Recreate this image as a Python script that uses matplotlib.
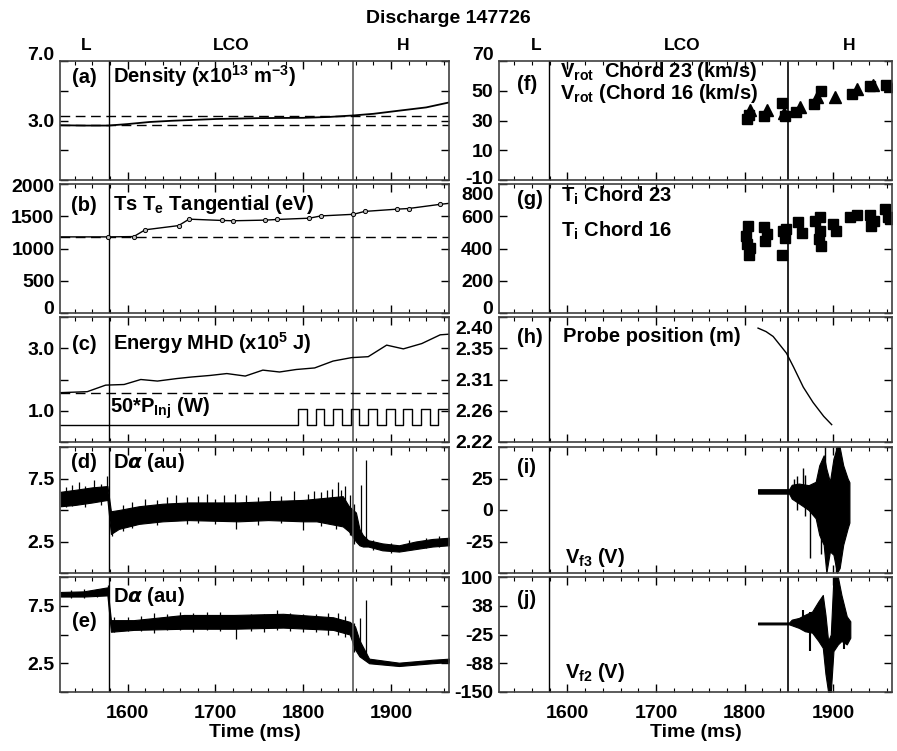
import numpy as np
import matplotlib
matplotlib.use('Agg')
import matplotlib.pyplot as plt
from matplotlib.ticker import MultipleLocator
from matplotlib.transforms import ScaledTranslation

plt.rcParams['font.family'] = ['Liberation Sans', 'DejaVu Sans']
plt.rcParams['font.weight'] = 'bold'
plt.rcParams['mathtext.fontset'] = 'custom'
plt.rcParams['mathtext.rm'] = 'Liberation Sans:bold'
plt.rcParams['mathtext.bf'] = 'Liberation Sans:bold'
plt.rcParams['mathtext.it'] = 'DejaVu Sans:italic'
plt.rcParams['mathtext.default'] = 'rm'

# ---- data ----
# (a) density
dens_t = [1524, 1550, 1578, 1600, 1625, 1650, 1700, 1750, 1800, 1830, 1857, 1880, 1909, 1940, 1965]
dens_v = [2.68, 2.66, 2.66, 2.76, 2.90, 2.98, 3.10, 3.16, 3.18, 3.24, 3.34, 3.45, 3.66, 3.88, 4.20]
dens_ref = [3.27, 2.68]

# (b) Thomson Te
te_t = [1524, 1578, 1607, 1620, 1658, 1670, 1707, 1720, 1757, 1770, 1807, 1820, 1857, 1870, 1907, 1920, 1956, 1966]
te_v = [1180, 1180, 1185, 1290, 1355, 1455, 1435, 1430, 1440, 1450, 1470, 1505, 1530, 1575, 1610, 1620, 1685, 1700]
te_ref = 1180

# (c) stored energy and beam power
wmhd_t = [1524, 1554, 1575, 1596, 1615, 1634, 1656, 1673, 1694, 1713, 1734, 1754, 1773, 1792,
          1813, 1834, 1855, 1874, 1895, 1914, 1935, 1956, 1966]
wmhd_v = [1.58, 1.61, 1.82, 1.84, 2.00, 1.95, 2.03, 2.08, 2.13, 2.19, 2.11, 2.30, 2.24, 2.32,
          2.37, 2.59, 2.70, 2.73, 3.10, 2.98, 3.15, 3.43, 3.45]
wmhd_ref = 1.58
pinj_on = [1794, 1814, 1834, 1854, 1874, 1894, 1914, 1934, 1954]
pinj_off = [1804, 1824, 1844, 1864, 1884, 1904, 1924, 1944, 1970]
pinj_lo, pinj_hi = 0.53, 1.07

# (d) D-alpha, band envelope + spikes
da1_t = [1524, 1540, 1560, 1577, 1581, 1590, 1613, 1640, 1669, 1726, 1760, 1800, 1815, 1845,
         1852, 1860, 1864, 1868, 1874, 1890, 1909, 1928, 1947, 1966]
da1_hi = [6.45, 6.60, 6.80, 6.90, 4.90, 5.00, 5.30, 5.50, 5.60, 5.60, 5.70, 5.80, 5.90, 6.10,
          5.30, 4.80, 3.50, 3.00, 2.60, 2.35, 2.20, 2.50, 2.70, 2.80]
da1_lo = [5.30, 5.40, 5.60, 5.80, 3.10, 3.50, 3.90, 4.10, 4.20, 4.10, 4.20, 4.10, 4.10, 3.70,
          3.30, 2.50, 2.20, 2.10, 2.10, 1.80, 1.70, 1.90, 2.10, 2.20]
da1_spk_t = [1530, 1537, 1545, 1552, 1562, 1570, 1577,
             1582, 1595, 1605, 1620, 1633, 1645, 1655, 1668, 1680, 1690, 1700, 1710, 1722,
             1724, 1735, 1748, 1762, 1775, 1790, 1800, 1805, 1812, 1820, 1827, 1833, 1837,
             1840, 1843, 1848, 1853, 1858, 1866, 1871,
             1880, 1900, 1920, 1940, 1955]
da1_spk_lo = [5.2, 5.3, 6.0, 5.2, 6.0, 5.4, 6.5,
              2.9, 3.3, 3.6, 4.5, 3.8, 4.5, 5.0, 3.9, 4.0, 5.0, 3.9, 5.0, 5.0,
              3.5, 5.0, 3.8, 5.0, 4.0, 5.0, 3.4, 5.0, 5.0, 3.7, 5.0, 5.0, 3.5,
              5.0, 5.0, 5.0, 3.0, 2.3, 2.3, 2.2,
              1.8, 1.6, 1.8, 2.0, 2.1]
da1_spk_hi = [6.8, 7.0, 7.2, 6.9, 7.4, 7.1, 7.7,
              4.5, 5.4, 5.6, 5.9, 5.8, 6.0, 6.2, 6.0, 6.1, 6.3, 5.9, 6.2, 6.3,
              5.0, 6.2, 6.0, 6.5, 6.1, 6.5, 5.0, 6.3, 6.5, 6.4, 6.6, 6.7, 6.0,
              7.2, 6.6, 6.9, 6.2, 5.5, 7.0, 8.97,
              2.6, 2.4, 2.6, 2.8, 2.9]

# (e) D-alpha, second chord
da2_t = [1524, 1550, 1577, 1581, 1607, 1664, 1721, 1777, 1834, 1853, 1859, 1864,
         1875, 1909, 1947, 1966]
da2_hi = [8.70, 8.75, 9.10, 6.25, 6.25, 6.70, 6.70, 6.80, 6.50, 6.10, 5.70, 4.50,
          2.90, 2.55, 2.80, 2.90]
da2_lo = [8.30, 8.30, 8.40, 5.24, 5.40, 5.50, 5.50, 5.60, 5.40, 5.00, 3.70, 3.10,
          2.50, 2.26, 2.50, 2.60]
da2_spk_t = [1535, 1550, 1565, 1578,
             1585, 1600, 1615, 1630, 1645, 1660, 1675, 1690, 1705, 1724, 1740, 1755,
             1770, 1785, 1800, 1815, 1828, 1840, 1848, 1858, 1865, 1872]
da2_spk_lo = [8.2, 8.2, 8.3, 8.4,
              5.2, 5.3, 5.3, 5.1, 5.4, 5.4, 5.2, 5.4, 5.3, 4.6, 5.3, 5.2,
              5.4, 5.3, 5.2, 5.2, 5.0, 5.0, 4.8, 3.5, 3.1, 2.9]
da2_spk_hi = [8.9, 9.0, 9.0, 9.3,
              6.5, 6.5, 6.6, 6.9, 6.8, 7.0, 6.9, 7.0, 7.0, 6.0, 6.8, 6.8,
              7.1, 6.9, 6.8, 6.8, 6.9, 6.9, 6.6, 6.0, 6.4, 8.0]

# (f) toroidal rotation
vrot23_t = [1802, 1805, 1822, 1842, 1845, 1858, 1878, 1886, 1921, 1941, 1959]
vrot23_v = [31, 34, 33, 42, 33, 36, 41, 50, 48, 53, 54]
vrot16_t = [1806, 1825, 1844, 1862, 1882, 1902, 1926, 1945, 1964]
vrot16_v = [37, 37, 35, 39, 46, 46, 51, 54, 53]

# (g) ion temperature
ti23_t = [1804, 1803, 1805, 1822, 1823, 1843, 1842, 1860, 1879, 1884, 1900, 1919, 1941, 1958, 1964]
ti23_v = [542, 425, 362, 531, 446, 510, 362, 563, 573, 457, 552, 595, 605, 648, 585]
ti16_t = [1801, 1806, 1825, 1845, 1847, 1864, 1885, 1886, 1885, 1903, 1926, 1942, 1946, 1961]
ti16_v = [478, 404, 489, 468, 521, 499, 595, 415, 510, 510, 605, 542, 573, 595]

# (h) probe position
probe_t = [1815, 1824, 1832, 1847, 1855, 1866, 1877, 1889, 1898]
probe_v = [2.384, 2.379, 2.372, 2.348, 2.328, 2.299, 2.277, 2.257, 2.245]

# (i) floating potential Vf3, envelope + spikes
vf3_t = [1815, 1850, 1853, 1861, 1872, 1880, 1884, 1889, 1892, 1896, 1900, 1904, 1907, 1911, 1916, 1918]
vf3_hi = [16.5, 16.5, 20, 21, 19.7, 22.4, 35.5, 43.4, 32.9, 22.4, 40.8, 50, 50, 35.5, 25, 22]
vf3_lo = [13, 13, 9, 5.3, 0, -6.6, -19.7, -27.6, -50, -32.9, -35.5, -50, -46, -27.6, -14.5, -10]
vf3_spk_t = [1855, 1859, 1866, 1868, 1874, 1886, 1891, 1903]
vf3_spk_lo = [10, 0, 10, -5, -38, -35, 0, -50]
vf3_spk_hi = [25, 27, 33, 28, 15, 20, 50, 50]

# (j) floating potential Vf2, envelope + spikes
vf2_t = [1815, 1850, 1853, 1861, 1868, 1876, 1883, 1888, 1891, 1894, 1897, 1900, 1905, 1909, 1915, 1919]
vf2_hi = [1, 1, 7.3, 11, 18, 25, 47, 61, 18, -39, -25, 100, 100, 61, 14.5, 3.7]
vf2_lo = [-3, -3, -5, -10.6, -18, -21, -39, -54, -111, -150, -150, -61, -46.5, -39, -46.5, -32]
vf2_spk_t = [1866, 1874, 1912]
vf2_spk_lo = [0, -61, -57]
vf2_spk_hi = [29, 25, 10]

# ---- layout ----
W, H = 897, 751
fig = plt.figure(figsize=(W / 100, H / 100), dpi=100)

def box(c, r):
    x0, x1 = [(60, 449), (499, 892)][c]
    y0, y1 = [(61, 180), (184, 313), (317, 442), (447, 573), (577, 692)][r]
    return [x0 / W, 1 - y1 / H, (x1 - x0) / W, (y1 - y0) / H]

def ftxt(x, y, s, **kw):
    kw.setdefault('fontsize', 14.5)
    kw.setdefault('va', 'baseline')
    fig.text(x / W, 1 - y / H, s, **kw)

axes = {}
for c in range(2):
    for r in range(5):
        ax = fig.add_axes(box(c, r))
        ax.set_xlim(1523, 1966)
        ax.xaxis.set_major_locator(MultipleLocator(100))
        ax.xaxis.set_minor_locator(MultipleLocator(20))
        ax.tick_params(which='major', direction='in', top=True, right=True,
                       length=6, width=1, labelsize=14, pad=4)
        ax.tick_params(which='minor', direction='in', top=True, bottom=True,
                       left=False, right=False, length=3, width=0.8)
        ax.tick_params(axis='x', pad=9)
        for s in ax.spines.values():
            s.set_linewidth(1.2)
            s.set_color('0.25')
        ax.axvline(1579, color='black', lw=1)
        ax.axvline(1857 if c == 0 else 1849, color='0.35' if c == 0 else 'black', lw=1.2)
        if r < 4:
            ax.tick_params(labelbottom=False)
        else:
            ax.set_xticks([1600, 1700, 1800, 1900])
            ax.set_xlabel('Time (ms)', fontsize=14, fontweight='bold', labelpad=2)
        axes[(c, r)] = ax

def yset(ax, lim, ticks, labels, top_dy=0, bot_dy=0):
    # top_dy / bot_dy: shift (pixels, up positive) of the end tick labels
    ax.set_ylim(*lim)
    ax.set_yticks(ticks)
    ax.set_yticklabels(labels)
    lbls = ax.get_yticklabels()
    for lb, dy in [(lbls[-1], top_dy), (lbls[0], bot_dy)]:
        if dy:
            lb.set_transform(lb.get_transform() +
                             ScaledTranslation(0, dy / 100, fig.dpi_scale_trans))

dash = dict(color='black', lw=1, dashes=(7, 4))

# (a)
ax = axes[(0, 0)]
ax.plot(dens_t, dens_v, color='black', lw=1.3)
for v in dens_ref:
    ax.axhline(v, **dash)
yset(ax, (-1, 7), [-1, 1, 3, 5, 7], ['', '', '3.0', '', '7.0'], top_dy=7)

# (b)
ax = axes[(0, 1)]
ax.axhline(te_ref, **dash)
ax.plot(te_t, te_v, color='black', lw=1, marker='o', ms=3, mfc='0.75', mec='black',
        mew=0.7, markevery=slice(1, -1))
yset(ax, (0, 2000), [0, 500, 1000, 1500, 2000], ['0', '500', '1000', '1500', '2000'],
     top_dy=-2, bot_dy=5)

# (c)
ax = axes[(0, 2)]
ax.plot(wmhd_t, wmhd_v, color='black', lw=1)
ax.axhline(wmhd_ref, **dash)
step_t = [1523]
step_v = [pinj_lo]
for on, off in zip(pinj_on, pinj_off):
    step_t += [on, on, off, off]
    step_v += [pinj_lo, pinj_hi, pinj_hi, pinj_lo]
ax.plot(step_t, step_v, color='black', lw=1)
yset(ax, (0, 4), [0, 1, 2, 3, 4], ['', '1.0', '', '3.0', ''])

# (d), (e)
for r, (t, lo, hi, st, slo, shi) in zip(
        [3, 4],
        [(da1_t, da1_lo, da1_hi, da1_spk_t, da1_spk_lo, da1_spk_hi),
         (da2_t, da2_lo, da2_hi, da2_spk_t, da2_spk_lo, da2_spk_hi)]):
    ax = axes[(0, r)]
    ax.fill_between(t, lo, hi, color='black', lw=0.8)
    ax.vlines(st, slo, shi, color='black', lw=0.9)
    yset(ax, (0, 10), [0, 2.5, 5, 7.5, 10], ['', '2.5', '', '7.5', ''])

# (f)
ax = axes[(1, 0)]
ax.plot(vrot23_t, vrot23_v, ls='none', marker='s', ms=6.5, color='black')
ax.plot(vrot16_t, vrot16_v, ls='none', marker='^', ms=8, color='black')
yset(ax, (-10, 70), [-10, 10, 30, 50, 70], ['-10', '10', '30', '50', '70'],
     top_dy=8, bot_dy=3)

# (g)
ax = axes[(1, 1)]
ax.plot(ti23_t, ti23_v, ls='none', marker='s', ms=6.5, color='black')
ax.plot(ti16_t, ti16_v, ls='none', marker='s', ms=6.5, color='black')
yset(ax, (0, 800), [0, 200, 400, 600, 800], ['0', '200', '400', '600', '800'],
     top_dy=-9, bot_dy=5)

# (h)
ax = axes[(1, 2)]
ax.plot(probe_t, probe_v, color='black', lw=1)
yset(ax, (2.22, 2.40), np.linspace(2.22, 2.40, 5), ['2.22', '2.26', '2.31', '2.35', '2.40'],
     top_dy=-10)

# (i)
ax = axes[(1, 3)]
ax.fill_between(vf3_t, vf3_lo, vf3_hi, color='black', lw=0.8)
ax.vlines(vf3_spk_t, vf3_spk_lo, vf3_spk_hi, color='black', lw=1)
yset(ax, (-50, 50), [-50, -25, 0, 25, 50], ['', '-25', '0', '25', ''])

# (j)
ax = axes[(1, 4)]
ax.fill_between(vf2_t, vf2_lo, vf2_hi, color='black', lw=0.8)
ax.vlines(vf2_spk_t, vf2_spk_lo, vf2_spk_hi, color='black', lw=1.5)
yset(ax, (-150, 100), np.linspace(-150, 100, 5), ['-150', '-88', '-25', '38', '100'])

# ---- text ----
ftxt(448, 23, 'Discharge 147726', ha='center', fontsize=14)
for x, s in [(86, 'L'), (231, 'LCO'), (403, 'H'), (536, 'L'), (682, 'LCO'), (849, 'H')]:
    ftxt(x, 50, s, ha='center', fontsize=12.5)

ftxt(84, 83, '(a)', ha='center')
ftxt(113, 83, r'Density (x10$^{13}$ m$^{-3}$)')
ftxt(84, 211, '(b)', ha='center')
ftxt(113, 210, r'Ts T$_{e}$ Tangential (eV)')
ftxt(84, 350, '(c)', ha='center')
ftxt(113, 350, r'Energy MHD (x10$^{5}$ J)')
ftxt(110, 413, r'50*P$_{Inj}$ (W)')
ftxt(84, 468, '(d)', ha='center')
ftxt(113, 468, r'D$\mathit{\alpha}$ (au)')
ftxt(113, 602, r'D$\mathit{\alpha}$ (au)')
ftxt(84, 627, '(e)', ha='center')

ftxt(527, 90, '(f)', ha='center')
ftxt(560, 77, r'V$_{rot}$  Chord 23 (km/s)')
ftxt(560, 99, r'V$_{rot}$ (Chord 16 (km/s)')
ftxt(530, 205, '(g)', ha='center')
ftxt(561, 202, r'T$_{i}$ Chord 23')
ftxt(561, 237, r'T$_{i}$ Chord 16')
ftxt(530, 343, '(h)', ha='center')
ftxt(563, 342, 'Probe position (m)')
ftxt(527, 473, '(i)', ha='center')
ftxt(565, 563, r'V$_{f3}$ (V)')
ftxt(527, 605, '(j)', ha='center')
ftxt(565, 678, r'V$_{f2}$ (V)')

fig.savefig('out.png', dpi=100)
